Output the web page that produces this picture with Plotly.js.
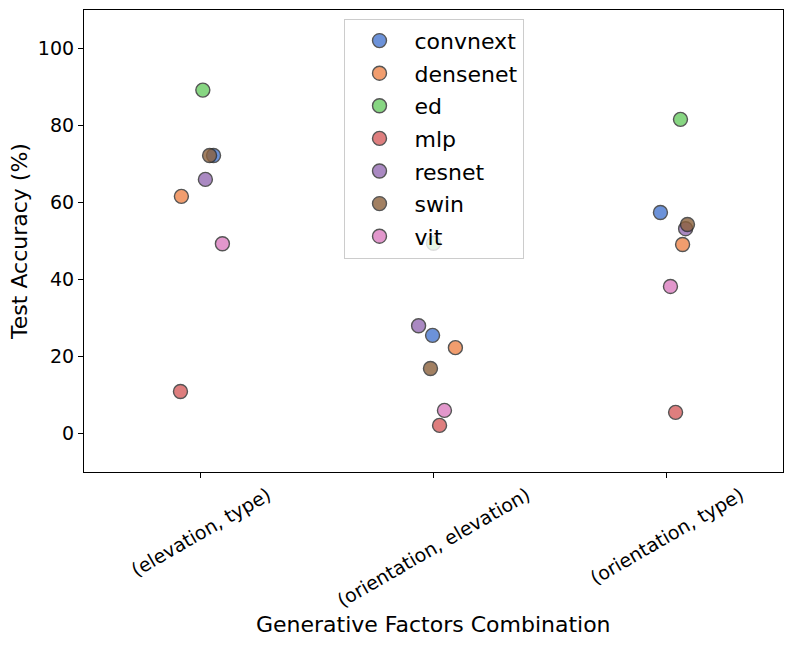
<!DOCTYPE html>
<html>
<head>
<meta charset="utf-8">
<script src="https://cdn.plot.ly/plotly-3.0.1.min.js"></script>
<style>html,body{margin:0;padding:0;background:#fff;}#chart{width:793px;height:648px;}</style>
</head>
<body>
<div id="chart"></div>
<script>
const categories = ["(elevation, type)", "(orientation, elevation)", "(orientation, type)"];
const models = ["convnext", "densenet", "ed", "mlp", "resnet", "swin", "vit"];
const colors = ["#4878d0", "#ee854a", "#6acc64", "#d65f5f", "#956cb4", "#8c613c", "#dc7ec0"];

// Test accuracy (%) per model, per category
const convnext = [72.2, 25.5, 57.4];
const densenet = [61.6, 22.3, 49.1];
const ed       = [89.2, 49.4, 81.6];
const mlp      = [10.9, 2.1, 5.5];
const resnet   = [66.0, 28.0, 53.2];
const swin     = [72.2, 16.9, 54.3];
const vit      = [49.3, 6.0, 38.2];

// stripplot jitter (horizontal offset from category centre)
const jitter_convnext = [0.056, -0.004, -0.026];
const jitter_densenet = [-0.082, 0.094, 0.069];
const jitter_ed       = [0.010, 0.000, 0.060];
const jitter_mlp      = [-0.086, 0.026, 0.039];
const jitter_resnet   = [0.021, -0.064, 0.082];
const jitter_swin     = [0.039, -0.013, 0.090];
const jitter_vit      = [0.094, 0.047, 0.017];

const values = [convnext, densenet, ed, mlp, resnet, swin, vit];
const jitters = [jitter_convnext, jitter_densenet, jitter_ed, jitter_mlp, jitter_resnet, jitter_swin, jitter_vit];

const FONT = "DejaVu Sans, sans-serif";

const traces = models.map((m, i) => ({
  type: "scatter",
  mode: "markers",
  name: m,
  legendgroup: m,
  x: categories.map((c, k) => k + jitters[i][k]),
  y: values[i],
  marker: {
    color: colors[i],
    opacity: 0.8,
    size: 14,
    line: {color: "#2b2b2b", width: 1.4}
  },
  hoverinfo: "name+y"
}));

// category tick labels, centred under each tick and rotated 30 degrees
const annotations = categories.map((c, k) => ({
  text: c, x: k, xref: "x", y: 0, yref: "paper",
  xanchor: "center", yanchor: "top", yshift: -8,
  textangle: -30, showarrow: false,
  font: {family: FONT, size: 19, color: "#000"}
}));
annotations.push({
  text: "Generative Factors Combination",
  x: 0.5, xref: "paper", y: 0, yref: "paper",
  xanchor: "center", yanchor: "middle", yshift: -152,
  showarrow: false,
  font: {family: FONT, size: 22, color: "#000"}
});

const layout = {
  width: 793, height: 648,
  margin: {l: 84, r: 10, t: 10, b: 176},
  paper_bgcolor: "#ffffff",
  plot_bgcolor: "#ffffff",
  font: {family: FONT, color: "#000000", size: 19},
  showlegend: true,
  legend: {
    x: 0.5, xanchor: "center",
    y: 0.981, yanchor: "top",
    bgcolor: "rgba(255,255,255,0.8)",
    bordercolor: "#cccccc", borderwidth: 1,
    font: {family: FONT, size: 22, color: "#000000"},
    traceorder: "grouped",
    tracegroupgap: 1,
    itemwidth: 60
  },
  annotations: annotations,
  xaxis: {
    range: [-0.5, 2.5],
    tickmode: "array",
    tickvals: [0, 1, 2],
    showticklabels: false,
    ticks: "outside", ticklen: 5, tickwidth: 1.1, tickcolor: "#000",
    showgrid: false, zeroline: false,
    showline: true, linecolor: "#000", linewidth: 1.1, mirror: true
  },
  yaxis: {
    range: [-10, 110],
    tickvals: [0, 20, 40, 60, 80, 100],
    ticks: "outside", ticklen: 5, tickwidth: 1.1, tickcolor: "#000",
    showgrid: false, zeroline: false,
    showline: true, linecolor: "#000", linewidth: 1.1, mirror: true,
    tickfont: {family: FONT, size: 19},
    title: {text: "Test Accuracy (%)", font: {family: FONT, size: 22}, standoff: 4}
  }
};

Plotly.newPlot("chart", traces, layout, {displayModeBar: false, staticPlot: true});
</script>
</body>
</html>
